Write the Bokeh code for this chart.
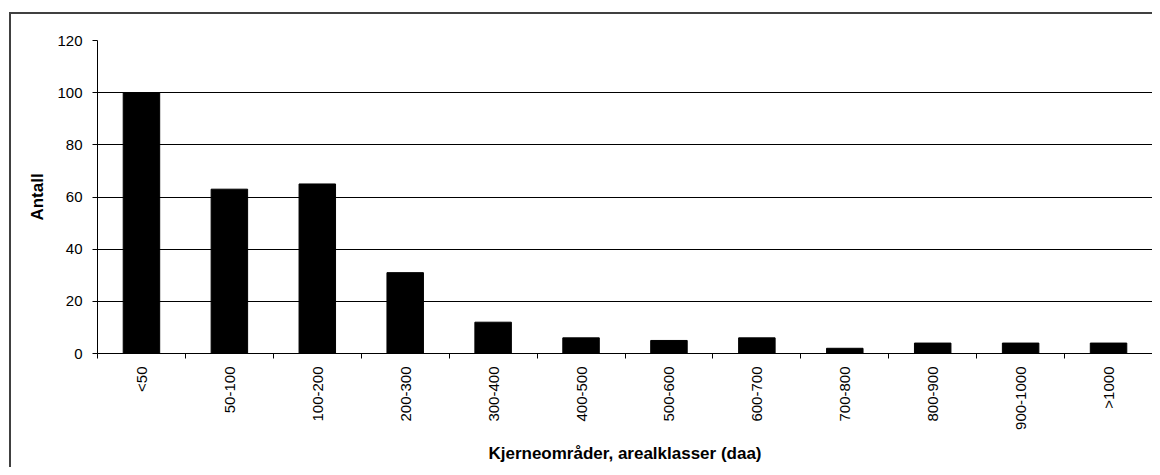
import math
from bokeh.plotting import figure
from bokeh.models import FixedTicker, Range1d
from bokeh.embed import file_html
from bokeh.resources import INLINE

categories = ["<50", "50-100", "100-200", "200-300", "300-400", "400-500",
              "500-600", "600-700", "700-800", "800-900", "900-1000", ">1000"]
antall = [100, 63, 65, 31, 12, 6, 5, 6, 2, 4, 4, 4]
y_ticks = [0, 20, 40, 60, 80, 100, 120]

x_centers = [i + 0.5 for i in range(len(categories))]
x_bounds = list(range(len(categories) + 1))

FONT = "Liberation Sans"

p = figure(width=1152, height=467, output_backend="svg", toolbar_location=None,
           x_range=Range1d(0, len(categories)), y_range=Range1d(0, 120),
           min_border_left=97, min_border_top=40, min_border_bottom=114,
           min_border_right=0)

p.vbar(x=x_centers, top=antall, width=0.415, fill_color="black", line_color="black")

p.outline_line_color = None
p.background_fill_color = "white"
p.border_fill_color = None

# outer chart border (top and left edges), painted behind the transparent canvas border
p.styles = {
    "background-color": "white",
    "background-image": "linear-gradient(#404040, #404040), linear-gradient(#404040, #404040)",
    "background-size": "2px 455px, 1143px 2px",
    "background-position": "9px 12px, 9px 12px",
    "background-repeat": "no-repeat",
}

p.xgrid.grid_line_color = None
p.ygrid.ticker = FixedTicker(ticks=y_ticks)
p.ygrid.grid_line_color = "black"
p.ygrid.grid_line_width = 1

p.yaxis.ticker = FixedTicker(ticks=y_ticks)
p.yaxis.axis_label = "Antall"
p.yaxis.axis_label_text_font = FONT
p.yaxis.axis_label_text_font_style = "bold"
p.yaxis.axis_label_text_font_size = "17px"
p.yaxis.axis_label_text_color = "black"
p.yaxis.axis_label_standoff = 7
p.yaxis.major_label_text_font = FONT
p.yaxis.major_label_text_font_size = "15px"
p.yaxis.major_label_text_color = "black"
p.yaxis.major_label_standoff = 10
p.yaxis.major_tick_out = 5
p.yaxis.major_tick_in = 0
p.yaxis.minor_tick_line_color = None
p.yaxis.axis_line_color = "black"
p.yaxis.major_tick_line_color = "black"

p.xaxis.ticker = FixedTicker(ticks=x_centers, minor_ticks=x_bounds)
p.xaxis.major_label_overrides = {c: lab for c, lab in zip(x_centers, categories)}
p.xaxis.major_label_orientation = math.pi / 2
p.xaxis.major_label_text_font = FONT
p.xaxis.major_label_text_font_size = "15px"
p.xaxis.major_label_text_color = "black"
p.xaxis.major_label_standoff = 8
p.xaxis.major_tick_out = 0
p.xaxis.major_tick_in = 0
p.xaxis.minor_tick_out = 5
p.xaxis.minor_tick_in = 0
p.xaxis.minor_tick_line_color = "black"
p.xaxis.axis_line_color = "black"
p.xaxis.axis_label = "Kjerneområder, arealklasser (daa)"
p.xaxis.axis_label_text_font = FONT
p.xaxis.axis_label_text_font_style = "bold"
p.xaxis.axis_label_text_font_size = "17px"
p.xaxis.axis_label_text_color = "black"
p.xaxis.axis_label_standoff = 11

open("out.html", "w").write(file_html(p, INLINE))
